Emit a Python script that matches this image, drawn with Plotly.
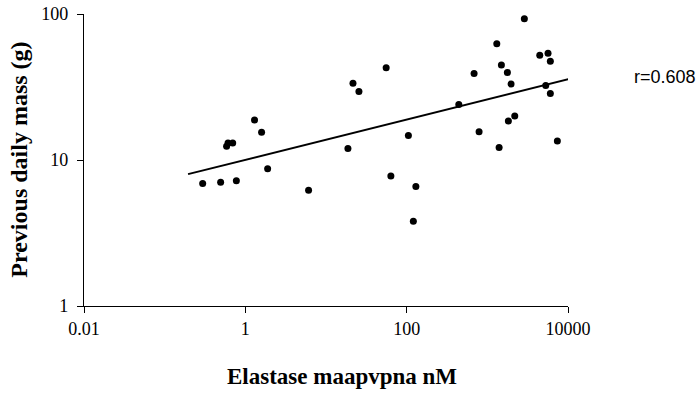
import plotly.graph_objects as go

elastase = [0.296, 0.494, 0.774, 0.586, 0.61, 0.697, 1.30, 1.59, 1.89, 6.08,
            18.7, 21.6, 25.6, 55.7, 105, 63.7, 130, 443, 685, 790,
            1310, 1400, 1494, 1771, 1968, 1823, 2188, 2877, 4465, 5654,
            6040, 5297, 6040, 7380, 121]
mass = [6.9, 7.05, 7.2, 12.4, 13.1, 13.1, 18.8, 15.5, 8.7, 6.2,
        12.0, 33.6, 29.5, 42.8, 14.7, 7.78, 6.58, 24.0, 39.2, 15.6,
        62.5, 12.2, 44.7, 39.8, 33.1, 18.5, 20.0, 92.9, 52.1, 53.8,
        47.4, 32.4, 28.5, 13.5, 3.81]
fit_x = [0.195, 10090]
fit_y = [8.0, 35.8]
xticks = [0.01, 1, 100, 10000]
xticklabels = ["0.01", "1", "100", "10000"]
yticks = [1, 10, 100]
yticklabels = ["1", "10", "100"]

fig = go.Figure()
fig.add_trace(go.Scatter(x=fit_x, y=fit_y, mode="lines",
                         line=dict(color="black", width=2), showlegend=False))
fig.add_trace(go.Scatter(x=elastase, y=mass, mode="markers",
                         marker=dict(color="black", size=7), showlegend=False))

serif = "Liberation Serif, Times New Roman, serif"
fig.update_layout(
    width=697, height=402,
    margin=dict(l=83.5, r=129.3, t=14, b=96.3, autoexpand=False),
    paper_bgcolor="white", plot_bgcolor="white",
    xaxis=dict(type="log", range=[-2, 4], tickvals=xticks, ticktext=xticklabels,
               showline=True, linecolor="black", linewidth=1.3, ticks="outside",
               ticklen=6, tickcolor="black", showgrid=False, zeroline=False,
               automargin=False, ticklabelstandoff=0,
               tickfont=dict(family=serif, size=18, color="black")),
    yaxis=dict(type="log", range=[0, 2], tickvals=yticks, ticktext=yticklabels,
               showline=True, linecolor="black", linewidth=1.3, ticks="outside",
               ticklen=6, tickcolor="black", showgrid=False, zeroline=False,
               automargin=False, ticklabelstandoff=5,
               tickfont=dict(family=serif, size=18, color="black")),
    annotations=[
        dict(text="<b>Elastase maapvpna nM</b>", xref="paper", yref="paper",
             x=0.533, y=-0.241, xanchor="center", yanchor="middle", showarrow=False,
             font=dict(family=serif, size=23, color="black")),
        dict(text="<b>Previous daily mass (g)</b>", xref="paper", yref="paper",
             x=-0.135, y=0.5, xanchor="center", yanchor="middle", textangle=-90,
             showarrow=False, font=dict(family=serif, size=24, color="black")),
        dict(text="r=0.608", xref="paper", yref="paper",
             x=1.133, y=0.785, xanchor="left", yanchor="middle", showarrow=False,
             font=dict(family="Liberation Sans, Arial, sans-serif", size=18, color="black")),
    ],
)
fig.write_html("out.html", config={"displayModeBar": False},
               post_script="document.body.style.margin='0';document.body.style.overflow='hidden';")
